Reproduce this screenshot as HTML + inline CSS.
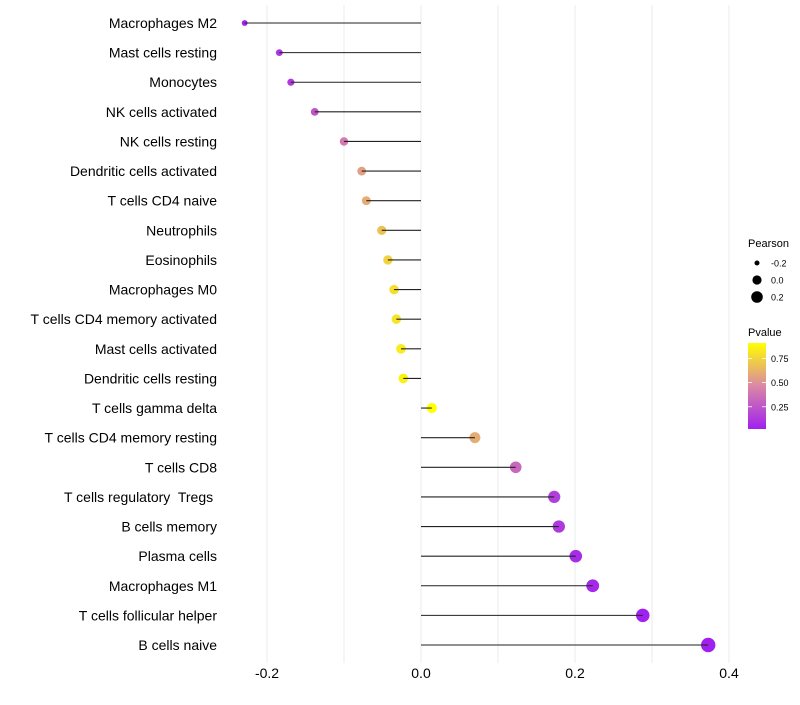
<!DOCTYPE html>
<html><head><meta charset="utf-8"><style>
body{margin:0;background:#fff;}
svg{font-family:"Liberation Sans",Arial,sans-serif;}
text{white-space:pre;}
</style></head><body>
<svg id="chart" width="800" height="700"></svg>
<script>
const categories=["Macrophages M2","Mast cells resting","Monocytes","NK cells activated","NK cells resting","Dendritic cells activated","T cells CD4 naive","Neutrophils","Eosinophils","Macrophages M0","T cells CD4 memory activated","Mast cells activated","Dendritic cells resting","T cells gamma delta","T cells CD4 memory resting","T cells CD8","T cells regulatory  Tregs ","B cells memory","Plasma cells","Macrophages M1","T cells follicular helper","B cells naive"];
const pearson=[-0.229,-0.184,-0.169,-0.138,-0.100,-0.077,-0.071,-0.051,-0.043,-0.035,-0.032,-0.026,-0.023,0.014,0.070,0.123,0.173,0.179,0.201,0.223,0.288,0.373];
const pvalue=[0.03,0.12,0.13,0.25,0.40,0.56,0.60,0.68,0.74,0.79,0.81,0.84,0.86,0.92,0.60,0.33,0.15,0.13,0.07,0.06,0.03,0.02];
const xTicks=[-0.2,0.0,0.2,0.4];
const xTickLabels=["-0.2","0.0","0.2","0.4"];
const xGrid=[-0.2,-0.1,0,0.1,0.2,0.3,0.4];
const sizeLegend=[-0.2,0.0,0.2];
const sizeLegendLabels=["-0.2","0.0","0.2"];
const colorLegend=[0.25,0.50,0.75];
const colorLegendLabels=["0.25","0.50","0.75"];

const svg=document.getElementById('chart');
const NS='http://www.w3.org/2000/svg';
function mk(tag,attrs,parent){const e=document.createElementNS(NS,tag);for(const k in attrs)e.setAttribute(k,attrs[k]);(parent||svg).appendChild(e);return e;}
const x=v=>421+v*770;
const y=i=>23+i*(622/21);
const r=v=>Math.sqrt(Math.max(2.4,25+72*v));
function col(p){const t=Math.max(0,Math.min(1,(p-0.02)/(0.91-0.02)));
 const a=[160,32,240],m=[218,136,165],b=[255,255,0];let c;
 if(t<0.5){const s=t/0.5;c=a.map((v,k)=>Math.round(v+(m[k]-v)*s));}else{const s=(t-0.5)/0.5;c=m.map((v,k)=>Math.round(v+(b[k]-v)*s));}
 return `rgb(${c[0]},${c[1]},${c[2]})`;}

xGrid.forEach(g=>{const l=mk('line',{x1:x(g),x2:x(g),y1:5,y2:663,stroke:'#ebebeb','stroke-width':1});

});
xTicks.forEach((t,i)=>{const tx=mk('text',{x:x(t),y:678,'font-size':14,'text-anchor':'middle',fill:'#000'});tx.textContent=xTickLabels[i];

});
categories.forEach((c,i)=>{
 const t=mk('text',{x:217,y:y(i)+5,'font-size':14,'text-anchor':'end',fill:'#000'});t.textContent=c;
 
 
 const p=mk('circle',{cx:x(pearson[i]),cy:y(i),r:r(pearson[i]),fill:col(pvalue[i])});
 
 
 const s=mk('line',{x1:x(0),x2:x(pearson[i]),y1:y(i),y2:y(i),stroke:'#222','stroke-width':1.1});
 
 
});
const lt=mk('text',{x:748,y:247,'font-size':11}); lt.textContent='Pearson';


const lr=[2.5,4.6,5.8];
sizeLegend.forEach((v,i)=>{const cy=263+i*17;
 const c=mk('circle',{cx:757,cy:cy,r:lr[i],fill:'#000'});
 
 
 const t=mk('text',{x:771,y:cy+3.5,'font-size':9});t.textContent=sizeLegendLabels[i];
 
 });
const ct=mk('text',{x:748,y:336,'font-size':11}); ct.textContent='Pvalue';


const defs=mk('defs',{});const lg=mk('linearGradient',{id:'pg',x1:0,y1:1,x2:0,y2:0},defs);
for(let k=0;k<=10;k++){mk('stop',{offset:k/10,'stop-color':col(0.02+k/10*0.89)},lg);}
const bar=mk('rect',{x:748,y:343,width:18,height:86,fill:'url(#pg)'});


const py=p=>429-(p-0.02)/0.89*86;
colorLegend.forEach((v,i)=>{
 mk('line',{x1:748,x2:752,y1:py(v),y2:py(v),stroke:'#fff','stroke-width':0.8});
 mk('line',{x1:762,x2:766,y1:py(v),y2:py(v),stroke:'#fff','stroke-width':0.8});
 const t=mk('text',{x:771,y:py(v)+3.5,'font-size':9});t.textContent=colorLegendLabels[i];
 
 });
</script>
</body></html>
